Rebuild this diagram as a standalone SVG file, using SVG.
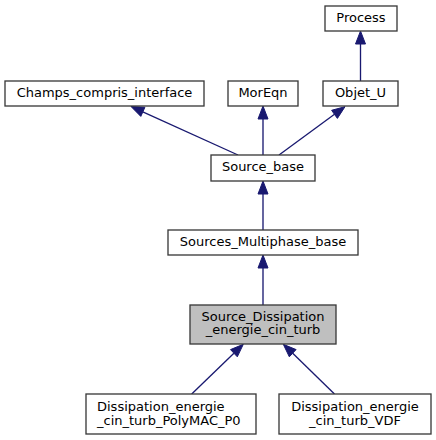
<svg xmlns="http://www.w3.org/2000/svg" width="436" height="440" viewBox="0 0 436 440">
<style>
.n rect{fill:#ffffff;stroke:#3a3a3a;stroke-width:1.33}
.n.cur rect{fill:#bfbfbf}
.n text{font-family:"DejaVu Sans","Liberation Sans",sans-serif;font-size:13px;fill:#000;text-anchor:middle}
.e line{stroke:#191970;stroke-width:1.33}
.e polygon{fill:#191970;stroke:#191970;stroke-width:1}
</style>
<g id="edges" class="e">
<line x1="360.5" y1="81" x2="360.5" y2="43"/>
<polygon points="360.5,31 355.5,44 365.5,44"/>
<line x1="238" y1="155" x2="142.8" y2="111.9"/>
<polygon points="131,106.5 144.9,107.3 140.8,116.4"/>
<line x1="263" y1="155" x2="263" y2="118"/>
<polygon points="263,106 258,119 268,119"/>
<line x1="279" y1="155" x2="334.5" y2="114.3"/>
<polygon points="345,106.7 337.4,118.4 331.6,110.3"/>
<line x1="263" y1="230" x2="263" y2="193"/>
<polygon points="263,181 258,194 268,194"/>
<line x1="263" y1="305" x2="263" y2="267"/>
<polygon points="263,255 258,268 268,268"/>
<line x1="191.7" y1="394" x2="233.9" y2="353.2"/>
<polygon points="243.3,344.3 237.3,356.8 230.5,349.6"/>
<line x1="334.5" y1="394" x2="292.7" y2="353.2"/>
<polygon points="283.3,344.3 296.1,349.6 289.3,356.8"/>
</g>
<g id="node-process" class="n"><rect x="325" y="6" width="72" height="25"/><text x="361" y="22">Process</text></g>
<g id="node-champs" class="n"><rect x="5" y="81" width="199" height="25"/><text x="104.5" y="97">Champs_compris_interface</text></g>
<g id="node-moreqn" class="n"><rect x="228" y="81" width="70" height="25"/><text x="263" y="97">MorEqn</text></g>
<g id="node-objetu" class="n"><rect x="323" y="81" width="75" height="25"/><text x="360.5" y="97">Objet_U</text></g>
<g id="node-sourcebase" class="n"><rect x="211" y="155" width="104" height="26"/><text x="263" y="171">Source_base</text></g>
<g id="node-multiphase" class="n"><rect x="168" y="230" width="190" height="25"/><text x="263" y="246">Sources_Multiphase_base</text></g>
<g id="node-sd" class="n cur"><rect x="190" y="305" width="146" height="39"/><text x="263" y="320.7">Source_Dissipation</text><text x="263" y="334.3">_energie_cin_turb</text></g>
<g id="node-polymac" class="n"><rect x="86" y="394" width="170" height="40"/><text x="97" y="410.7" style="text-anchor:start">Dissipation_energie</text><text x="97" y="424.7" style="text-anchor:start">_cin_turb_PolyMAC_P0</text></g>
<g id="node-vdf" class="n"><rect x="279" y="394" width="152" height="40"/><text x="355" y="410.7">Dissipation_energie</text><text x="355" y="424.7">_cin_turb_VDF</text></g>
</svg>
